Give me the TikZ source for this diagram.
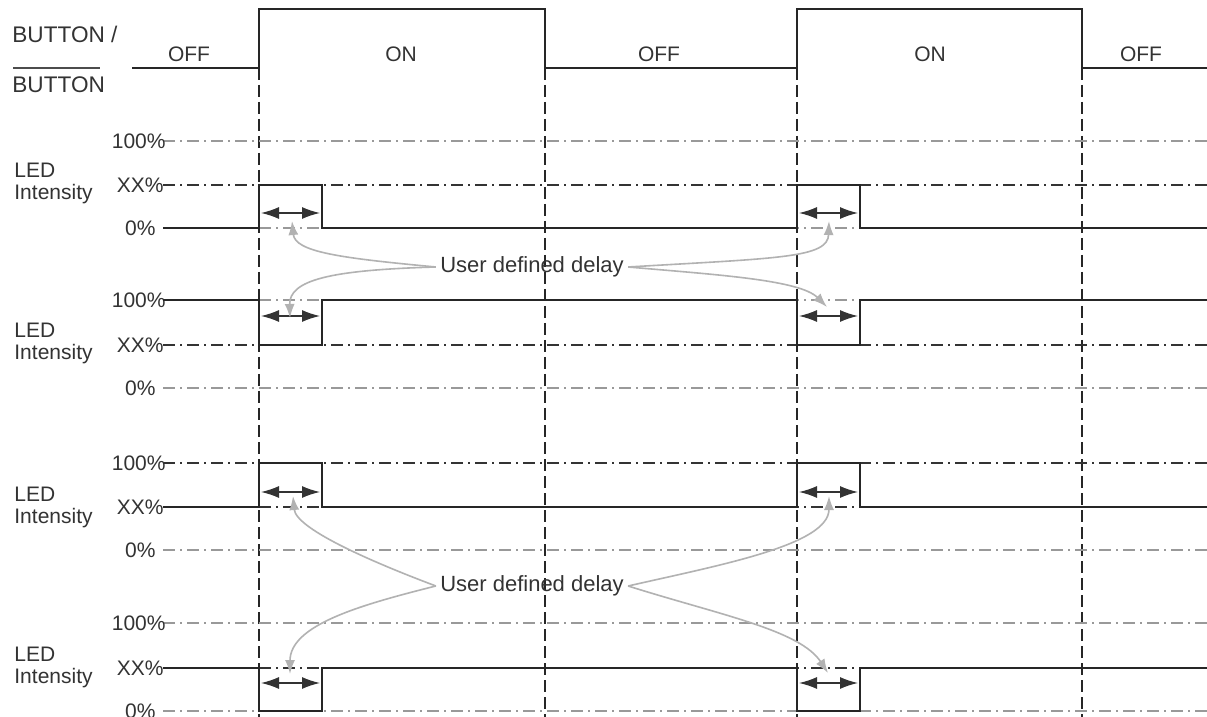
\documentclass[tikz,border=0pt]{standalone}
\usepackage{fontspec}
\setmainfont{Liberation Sans}
\usetikzlibrary{arrows.meta}
\begin{document}
\begin{tikzpicture}[x=0.5pt,y=-0.5pt,
 sig/.style={line width=1.4pt, black!85, line join=miter},
 vgrid/.style={line width=0.85pt, black!85, dash pattern=on 6pt off 2.5pt},
 lvl/.style={line width=0.85pt, gray!80, dash pattern=on 6pt off 2.5pt on 1pt off 2.5pt},
 lvldark/.style={lvl, black!80},
 lbl/.style={font=\fontsize{10.5}{12}\selectfont, text=black!80, inner sep=0pt},
 note/.style={font=\fontsize{11}{13}\selectfont, text=black!80, inner sep=2pt},
 delay/.style={line width=0.7pt, black!80, {Latex[length=9pt,width=6pt]}-{Latex[length=9pt,width=6pt]}},
 pointer/.style={line width=0.8pt, gray!60, -{Latex[length=7pt,width=5pt]}},
]
\useasboundingbox (0,0) rectangle (1207,717);
\fill[white] (0,0) rectangle (1207,717);

% vertical dashed guides
\foreach \x in {259,545,797,1082} \draw[vgrid] (\x,68) -- (\x,717);

% button signal
\node[lbl, font=\fontsize{11.3}{13}\selectfont, anchor=west] (btn1) at (12,34) {BUTTON /};
\draw[line width=0.6pt, black!70] (13,68) -- (100,68);
\node[lbl, font=\fontsize{11.3}{13}\selectfont, anchor=west] (btn2) at (12,85) {BUTTON};
\draw[sig] (132,68) -- (259,68) -- (259,9) -- (545,9) -- (545,68) -- (797,68) -- (797,9) -- (1082,9) -- (1082,68) -- (1207,68);
\node[lbl] (off1) at (189,54) {OFF};
\node[lbl] (on1) at (401,54) {ON};
\node[lbl] (off2) at (659,54) {OFF};
\node[lbl] (on2) at (930,54) {ON};
\node[lbl] (off3) at (1141,54) {OFF};

% level lines and labels
\foreach \a/\b/\c/\ha/\hb/\hc [count=\i] in {141/185/228/lvl/lvldark/lvl, 300/345/388/lvl/lvldark/lvl, 463/507/550/lvldark/lvldark/lvl, 623/668/711/lvl/lvldark/lvl}{
  \draw[\ha] (163,\a) -- (1207,\a);
  \draw[\hb] (163,\b) -- (1207,\b);
  \draw[\hc] (163,\c) -- (1207,\c);
  \node[lbl, anchor=east] (p\i a) at (166,\a) {100\%};
  \node[lbl, anchor=east] (p\i b) at (164,\b) {XX\%};
  \node[lbl, anchor=east] (p\i c) at (156,\c) {0\%};
}
\node[lbl, anchor=west] (led1) at (14,170) {LED};
\node[lbl, anchor=west] (int1) at (14,194) {Intensity};
\node[lbl, anchor=west] (led2) at (14,330) {LED};
\node[lbl, anchor=west] (int2) at (14,354) {Intensity};
\node[lbl, anchor=west] (led3) at (14,494) {LED};
\node[lbl, anchor=west] (int3) at (14,518) {Intensity};
\node[lbl, anchor=west] (led4) at (14,654) {LED};
\node[lbl, anchor=west] (int4) at (14,678) {Intensity};

% LED signals
\draw[sig] (163,228) -- (259,228) -- (259,185) -- (322,185) -- (322,228) -- (797,228) -- (797,185) -- (860,185) -- (860,228) -- (1207,228);
\draw[sig] (163,300) -- (259,300) -- (259,345) -- (322,345) -- (322,300) -- (797,300) -- (797,345) -- (860,345) -- (860,300) -- (1207,300);
\draw[sig] (163,507) -- (259,507) -- (259,463) -- (322,463) -- (322,507) -- (797,507) -- (797,463) -- (860,463) -- (860,507) -- (1207,507);
\draw[sig] (163,668) -- (259,668) -- (259,711) -- (322,711) -- (322,668) -- (797,668) -- (797,711) -- (860,711) -- (860,668) -- (1207,668);

% delay arrows
\foreach \y [count=\i] in {213,316,492,683}{
  \coordinate (dl\i a) at (261,\y); \coordinate (dl\i b) at (320,\y);
  \coordinate (dr\i a) at (799,\y); \coordinate (dr\i b) at (858,\y);
  \draw[delay] (dl\i a) -- (dl\i b);
  \draw[delay] (dr\i a) -- (dr\i b);
}

% notes and pointers
\node[note] (udd1) at (532,267) {User defined delay};
\node[note] (udd2) at (532,586) {User defined delay};
\coordinate (t1) at (292,221); \coordinate (t2) at (290,318);
\coordinate (t3) at (829,221); \coordinate (t4) at (827,307);
\coordinate (t5) at (293,496); \coordinate (t6) at (290,674);
\coordinate (t7) at (829,496); \coordinate (t8) at (828,673);
\draw[pointer] (udd1.west) .. controls (340,258) and (295,252) .. (t1);
\draw[pointer] (udd1.west) .. controls (330,270) and (289,280) .. (t2);
\draw[pointer] (udd1.east) .. controls (780,258) and (828,258) .. (t3);
\draw[pointer] (udd1.east) .. controls (720,275) and (800,280) .. (t4);
\draw[pointer] (udd2.west) .. controls (380,565) and (296,530) .. (t5);
\draw[pointer] (udd2.west) .. controls (360,605) and (290,625) .. (t6);
\draw[pointer] (udd2.east) .. controls (720,565) and (829,545) .. (t7);
\draw[pointer] (udd2.east) .. controls (720,615) and (800,630) .. (t8);
\end{tikzpicture}
\end{document}
